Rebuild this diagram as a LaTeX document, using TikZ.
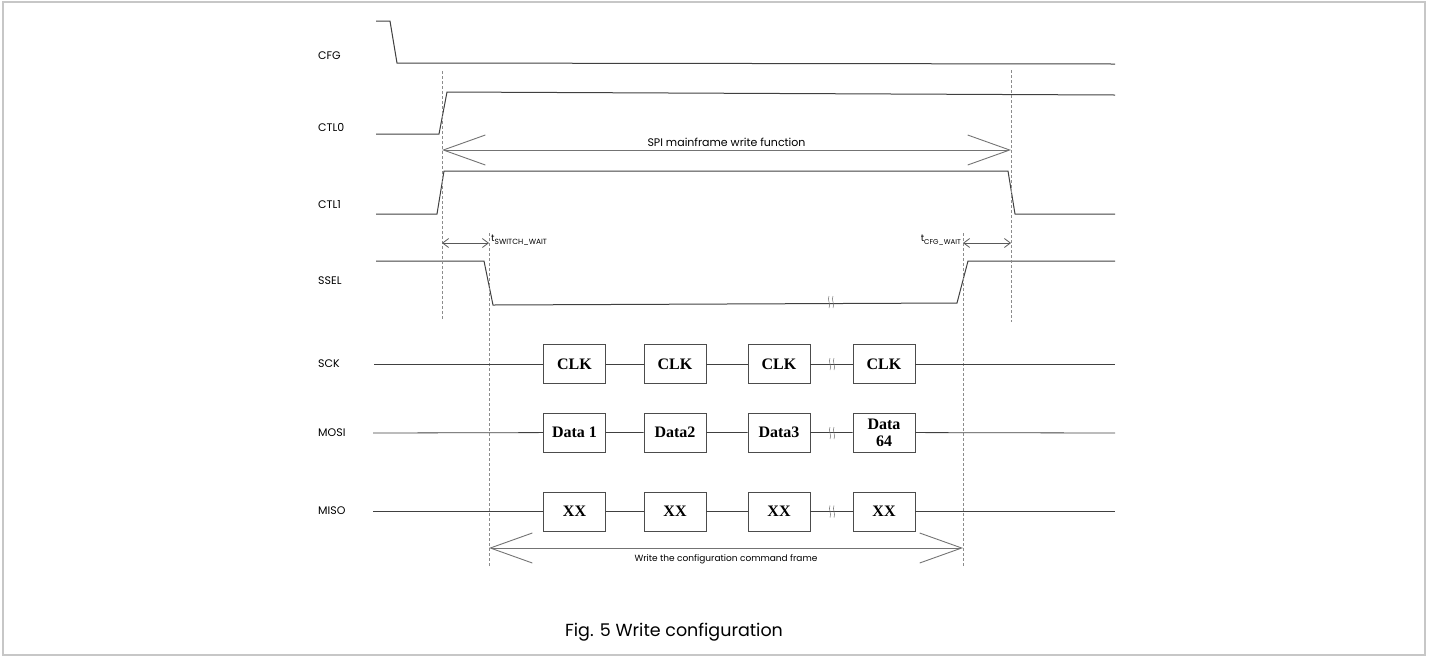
\documentclass[tikz,border=0pt]{standalone}
\usepackage{fontspec}
\usepackage{tikz}
\usetikzlibrary{arrows.meta,positioning}
\newfontfamily\sigfont{Poppins}
\newfontfamily\boxfont{Liberation Serif}
\newcommand{\gapmark}[2]{%
  \draw[gapline] (#1-2,#2-6) .. controls (#1-4,#2-2) and (#1,#2+2) .. (#1-2,#2+6);
  \draw[gapline] (#1+2,#2-6) .. controls (#1,#2-2) and (#1+4,#2+2) .. (#1+2,#2+6);}
\begin{document}
\begin{tikzpicture}[x=1pt,y=-1pt,
siglabel/.style={font=\sigfont\fontsize{11}{13}\selectfont,anchor=west,inner sep=0pt},
note/.style={font=\sigfont\fontsize{9.5}{11}\selectfont,inner sep=1pt},
wave/.style={line width=1pt,draw=black!75},
guide/.style={dashed,line width=0.5pt,draw=black!45,dash pattern=on 3pt off 2pt},
span/.style={{Straight Barb[length=42pt,width=30pt]}-{Straight Barb[length=42pt,width=30pt]},line width=0.9pt,draw=black!55},
wait/.style={{Straight Barb[length=6pt,width=9pt]}-{Straight Barb[length=6pt,width=9pt]},line width=0.8pt,draw=black!65},
slot/.style={draw=black!70,line width=0.9pt,minimum width=62pt,minimum height=39pt,inner sep=0pt,
  align=center,font=\boxfont\bfseries\fontsize{16}{17}\selectfont},
gapline/.style={line width=0.5pt,draw=black!55} ]

\useasboundingbox (0,0) rectangle (1429,657);
\draw[black!22,line width=2pt] (3,2) rectangle (1425,655);

% signal names
\node[siglabel](cfg) at (318,56) {CFG};
\node[siglabel](ctla) at (318,127) {CTL0};
\node[siglabel](ctlb) at (318,205) {CTL1};
\node[siglabel](ssel) at (318,281) {SSEL};
\node[siglabel](sck) at (318,364) {SCK};
\node[siglabel](mosi) at (318,433) {MOSI};
\node[siglabel](miso) at (318,511) {MISO};

% waveforms
\draw[wave] (376,21) -- (390,21) -- (397,63) -- (1115,64);
\draw[wave] (376,134) -- (439,134) -- (447,92) -- (1115,95);
\draw[wave] (376,214) -- (437,214) -- (444,171) -- (1008,171) -- (1015,214) -- (1115,214);
\draw[wave] (376,261) -- (484,261) -- (493,305) -- (957,303) -- (968,261) -- (1115,261);
\gapmark{831}{302}

% guide lines
\coordinate (ga) at (442,71);  \coordinate (gb) at (442,320);
\coordinate (gc) at (1011,70); \coordinate (gd) at (1011,322);
\coordinate (ge) at (489,233); \coordinate (gf) at (489,566);
\coordinate (gg) at (963,233); \coordinate (gh) at (963,566);
\draw[guide] (ga) -- (gb);
\draw[guide] (gc) -- (gd);
\draw[guide] (ge) -- (gf);
\draw[guide] (gg) -- (gh);

% spans
\coordinate (sa) at (442,150); \coordinate (sb) at (1011,150);
\draw[span] (sa) -- node[note,above=2pt,font=\sigfont\fontsize{11}{13}\selectfont] {SPI mainframe write function} (sb);
\coordinate (wa) at (442,243); \coordinate (wb) at (489,243);
\draw[wait] (wa) -- (wb);
\node[note,anchor=west,inner sep=0pt] (tsw) at (491,240) {t\raisebox{-2.5pt}{\fontsize{7.5}{8}\selectfont SWITCH\_WAIT}};
\coordinate (wc) at (963,243); \coordinate (wd) at (1011,243);
\draw[wait] (wc) -- (wd);
\node[note,anchor=east,inner sep=0pt] (tcw) at (961,240) {t\raisebox{-2.5pt}{\fontsize{7}{8}\selectfont CFG\_WAIT}};
\coordinate (fa) at (489,548); \coordinate (fb) at (963,548);
\draw[span] (fa) -- node[note,below=5pt,font=\sigfont\fontsize{9}{11}\selectfont] {Write the configuration command frame} (fb);

% SCK
\node[slot](ka) at (574.5,364) {CLK};
\node[slot](kb) at (675,364) {CLK};
\node[slot](kc) at (779,364) {CLK};
\node[slot](kd) at (884,364) {CLK};
\coordinate (ks) at (374,364); \coordinate (ke) at (1115,364);
\draw[wave,line width=0.8pt] (ks) -- (ka) (ka) -- (kb) (kb) -- (kc) (kc) -- (kd) (kd) -- (ke);
\gapmark{832}{364}

% MOSI
\node[slot](da) at (574.5,432.5) {Data 1};
\node[slot](db) at (675,432.5) {Data2};
\node[slot](dc) at (779,432.5) {Data3};
\node[slot](dd) at (884,432.5) {Data\\64};
\coordinate (ds) at (373,433); \coordinate (de) at (1115,433);
\draw[wave,line width=0.8pt] (ds) -- (da) (da) -- (db) (db) -- (dc) (dc) -- (dd) (dd) -- (de);
\gapmark{832}{433}

% MISO
\node[slot](xa) at (574.5,511.5) {XX};
\node[slot](xb) at (675,511.5) {XX};
\node[slot](xc) at (779,511.5) {XX};
\node[slot](xd) at (884,511.5) {XX};
\coordinate (xs) at (373,511.5); \coordinate (xe) at (1115,511.5);
\draw[wave,line width=0.8pt] (xs) -- (xa) (xa) -- (xb) (xb) -- (xc) (xc) -- (xd) (xd) -- (xe);
\gapmark{832}{511.5}

% caption
\node[font=\sigfont\fontsize{17.5}{20}\selectfont,inner sep=0pt](cap) at (674,632) {Fig. 5 Write configuration};
\end{tikzpicture}
\end{document}
